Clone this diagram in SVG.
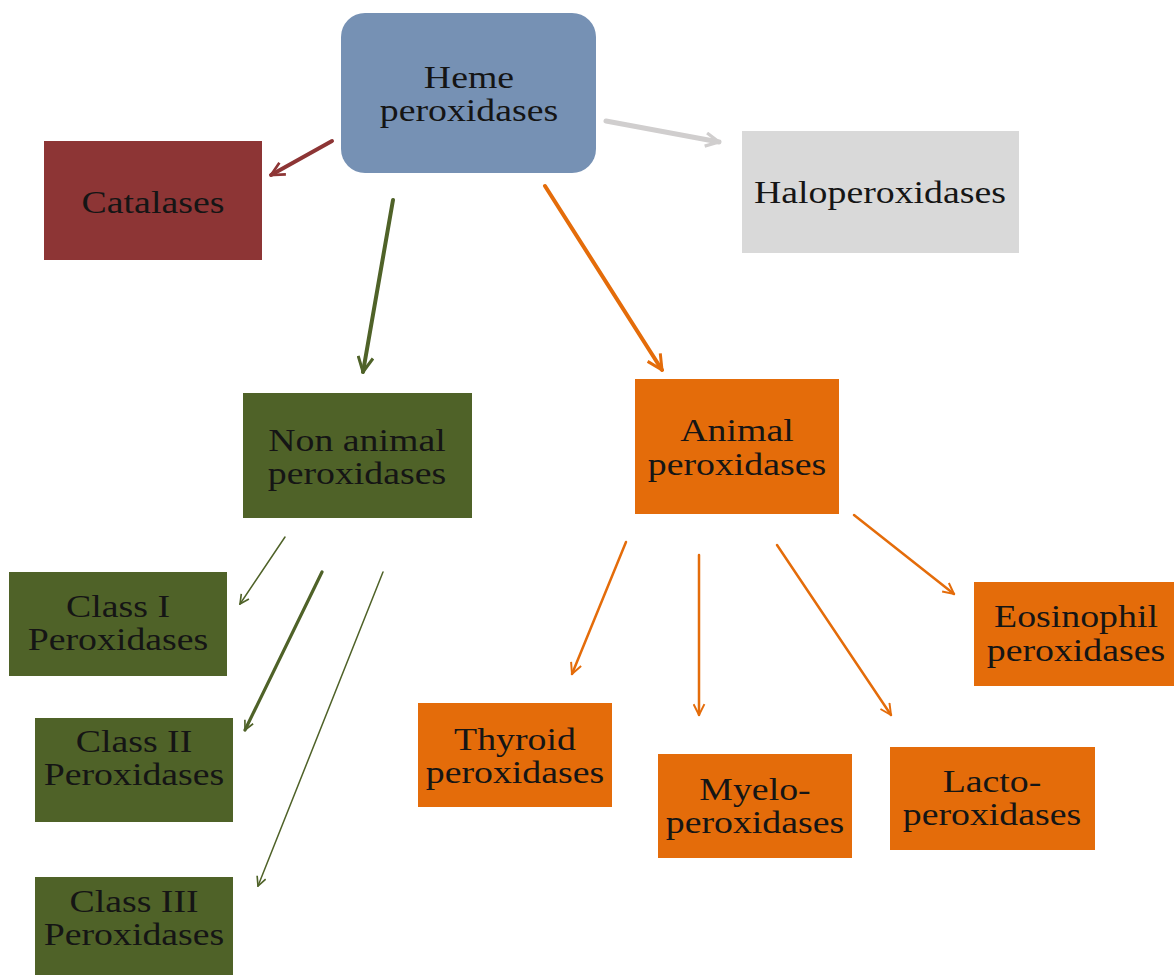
<svg xmlns="http://www.w3.org/2000/svg" width="1174" height="975" viewBox="0 0 1174 975">
<defs>
<style>
.t{font-family:"Liberation Serif","Times New Roman",serif;font-size:31px;fill:#151515;text-anchor:middle}
.c{fill:none;stroke-linecap:round}
</style>
<marker id="mr" viewBox="0 0 12 12" refX="11" refY="6" markerWidth="16" markerHeight="16" markerUnits="userSpaceOnUse" orient="auto"><path d="M1,1 L11,6 L1,11" fill="none" stroke="#8D3535" stroke-width="2"/></marker>
<marker id="mg" viewBox="0 0 12 12" refX="11" refY="6" markerWidth="16" markerHeight="16" markerUnits="userSpaceOnUse" orient="auto"><path d="M1,1 L11,6 L1,11" fill="none" stroke="#D0CECE" stroke-width="2.4"/></marker>
<marker id="mgr" viewBox="0 0 12 12" refX="11" refY="6" markerWidth="18" markerHeight="18" markerUnits="userSpaceOnUse" orient="auto"><path d="M1,1 L11,6 L1,11" fill="none" stroke="#4F6228" stroke-width="2"/></marker>
<marker id="mgs" viewBox="0 0 12 12" refX="11" refY="6" markerWidth="11" markerHeight="11" markerUnits="userSpaceOnUse" orient="auto"><path d="M1,1 L11,6 L1,11" fill="none" stroke="#4F6228" stroke-width="1.8"/></marker>
<marker id="mo" viewBox="0 0 12 12" refX="11" refY="6" markerWidth="18" markerHeight="18" markerUnits="userSpaceOnUse" orient="auto"><path d="M1,1 L11,6 L1,11" fill="none" stroke="#E46C0A" stroke-width="2"/></marker>
<marker id="mos" viewBox="0 0 12 12" refX="11" refY="6" markerWidth="13" markerHeight="13" markerUnits="userSpaceOnUse" orient="auto"><path d="M1,1 L11,6 L1,11" fill="none" stroke="#E46C0A" stroke-width="1.8"/></marker>
</defs>
<rect width="1174" height="975" fill="#ffffff"/>
<g id="connectors">
<line class="c" x1="332" y1="141" x2="271" y2="175" stroke="#8D3535" stroke-width="4" marker-end="url(#mr)"/>
<line class="c" x1="606" y1="121" x2="719" y2="142" stroke="#D0CECE" stroke-width="5" marker-end="url(#mg)"/>
<line class="c" x1="393" y1="200" x2="363" y2="372" stroke="#4F6228" stroke-width="4" marker-end="url(#mgr)"/>
<line class="c" x1="545" y1="186" x2="662" y2="370" stroke="#E46C0A" stroke-width="4" marker-end="url(#mo)"/>
<line class="c" x1="285" y1="537" x2="240" y2="604" stroke="#4F6228" stroke-width="1.5" marker-end="url(#mgs)"/>
<line class="c" x1="322" y1="572" x2="245" y2="730" stroke="#4F6228" stroke-width="3.2" marker-end="url(#mgs)"/>
<line class="c" x1="383" y1="572" x2="258" y2="886" stroke="#4F6228" stroke-width="1.5" marker-end="url(#mgs)"/>
<line class="c" x1="626" y1="542" x2="572" y2="674" stroke="#E46C0A" stroke-width="2.5" marker-end="url(#mos)"/>
<line class="c" x1="699" y1="555" x2="699" y2="715" stroke="#E46C0A" stroke-width="2.5" marker-end="url(#mos)"/>
<line class="c" x1="777" y1="545" x2="891" y2="715" stroke="#E46C0A" stroke-width="2.5" marker-end="url(#mos)"/>
<line class="c" x1="854" y1="515" x2="954" y2="594" stroke="#E46C0A" stroke-width="2.5" marker-end="url(#mos)"/>
</g>
<g id="heme">
<rect x="341" y="13" width="255" height="160" rx="24" fill="#7691B4"/>
<text class="t" transform="translate(469,88) scale(1.22,1)">Heme</text>
<text class="t" transform="translate(469,121) scale(1.22,1)">peroxidases</text>
</g>
<g id="catalases">
<rect x="44" y="141" width="218" height="119" fill="#8D3535"/>
<text class="t" transform="translate(153,213) scale(1.22,1)">Catalases</text>
</g>
<g id="haloperoxidases">
<rect x="742" y="131" width="277" height="122" fill="#D9D9D9"/>
<text class="t" transform="translate(880,203) scale(1.22,1)">Haloperoxidases</text>
</g>
<g id="nonanimal">
<rect x="243" y="393" width="229" height="125" fill="#4F6228"/>
<text class="t" transform="translate(357,451) scale(1.22,1)">Non animal</text>
<text class="t" transform="translate(357,484) scale(1.22,1)">peroxidases</text>
</g>
<g id="animal">
<rect x="635" y="379" width="204" height="135" fill="#E46C0A"/>
<text class="t" transform="translate(737,441) scale(1.22,1)">Animal</text>
<text class="t" transform="translate(737,475) scale(1.22,1)">peroxidases</text>
</g>
<g id="class1">
<rect x="9" y="572" width="218" height="104" fill="#4F6228"/>
<text class="t" transform="translate(118,617) scale(1.22,1)">Class I</text>
<text class="t" transform="translate(118,650) scale(1.22,1)">Peroxidases</text>
</g>
<g id="class2">
<rect x="35" y="718" width="198" height="104" fill="#4F6228"/>
<text class="t" transform="translate(134,752) scale(1.22,1)">Class II</text>
<text class="t" transform="translate(134,785) scale(1.22,1)">Peroxidases</text>
</g>
<g id="class3">
<rect x="35" y="877" width="198" height="98" fill="#4F6228"/>
<text class="t" transform="translate(134,912) scale(1.22,1)">Class III</text>
<text class="t" transform="translate(134,945) scale(1.22,1)">Peroxidases</text>
</g>
<g id="eosinophil">
<rect x="974" y="582" width="200" height="104" fill="#E46C0A"/>
<text class="t" transform="translate(1076,627) scale(1.22,1)">Eosinophil</text>
<text class="t" transform="translate(1076,661) scale(1.22,1)">peroxidases</text>
</g>
<g id="thyroid">
<rect x="418" y="703" width="194" height="104" fill="#E46C0A"/>
<text class="t" transform="translate(515,750) scale(1.22,1)">Thyroid</text>
<text class="t" transform="translate(515,783) scale(1.22,1)">peroxidases</text>
</g>
<g id="myelo">
<rect x="658" y="754" width="194" height="104" fill="#E46C0A"/>
<text class="t" transform="translate(755,800) scale(1.22,1)">Myelo-</text>
<text class="t" transform="translate(755,833) scale(1.22,1)">peroxidases</text>
</g>
<g id="lacto">
<rect x="890" y="747" width="205" height="103" fill="#E46C0A"/>
<text class="t" transform="translate(992,792) scale(1.22,1)">Lacto-</text>
<text class="t" transform="translate(992,825) scale(1.22,1)">peroxidases</text>
</g>
</svg>
